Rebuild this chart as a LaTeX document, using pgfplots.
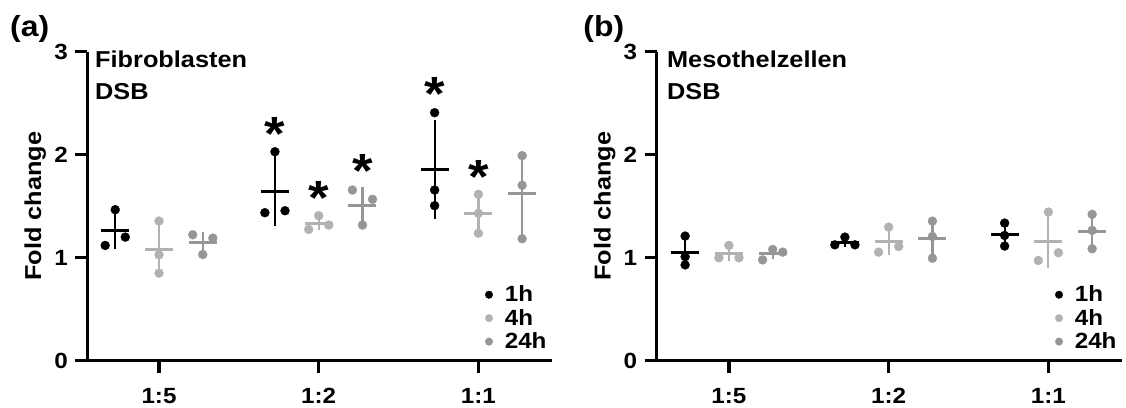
\documentclass[border=0pt]{standalone}
\usepackage{fontspec}
\setmainfont[FakeStretch=1.1]{Liberation Sans}
\usepackage{pgfplots}
\pgfplotsset{compat=1.18}
\usepackage{pgfplotstable}
\definecolor{cA}{RGB}{0,0,0}
\definecolor{cB}{RGB}{178,178,180}
\definecolor{cC}{RGB}{150,150,150}

% ---------- panel (a): Fibroblasten ----------
\pgfplotstableread{
x y
-0.274 1.466
-0.337 1.119
-0.211 1.200
0.726 2.029
0.663 1.437
0.789 1.456
1.726 2.408
1.726 1.657
1.726 1.505
}\ptsAa
\pgfplotstableread{
x y
0 1.356
0 1.028
0 0.850
1.000 1.408
0.937 1.275
1.063 1.317
2 1.615
2 1.431
2 1.237
}\ptsAb
\pgfplotstableread{
x y
0.211 1.223
0.337 1.190
0.274 1.031
1.211 1.657
1.337 1.567
1.274 1.317
2.274 1.991
2.274 1.703
2.274 1.184
}\ptsAc
\pgfplotstableread{
x m s
-0.274 1.262 0.181
0.726 1.645 0.338
1.726 1.857 0.480
}\mnAa
\pgfplotstableread{
x m s
0 1.078 0.257
1 1.334 0.068
2 1.427 0.189
}\mnAb
\pgfplotstableread{
x m s
0.274 1.148 0.103
1.274 1.509 0.178
2.274 1.626 0.409
}\mnAc
\pgfplotstableread{
x y
0.726 2.31
1.000 1.69
1.274 1.95
1.726 2.70
2.000 1.89
}\starsA

% ---------- panel (b): Mesothelzellen ----------
\pgfplotstableread{
x y
-0.274 1.210
-0.274 1.010
-0.274 0.930
0.663 1.125
0.726 1.200
0.789 1.125
1.726 1.336
1.726 1.216
1.726 1.113
}\ptsBa
\pgfplotstableread{
x y
0 1.119
-0.063 0.999
0.063 0.999
1.000 1.297
0.937 1.054
1.063 1.109
2.000 1.443
1.937 0.973
2.063 1.048
}\ptsBb
\pgfplotstableread{
x y
0.211 0.979
0.274 1.080
0.337 1.054
1.274 1.355
1.274 1.206
1.274 0.995
2.274 1.421
2.274 1.265
2.274 1.087
}\ptsBc
\pgfplotstableread{
x m s
-0.274 1.050 0.144
0.726 1.148 0.043
1.726 1.222 0.112
}\mnBa
\pgfplotstableread{
x m s
0 1.039 0.069
1 1.153 0.127
2 1.155 0.252
}\mnBb
\pgfplotstableread{
x m s
0.274 1.038 0.053
1.274 1.185 0.181
2.274 1.258 0.167
}\mnBc

\pgfplotsset{
  panel/.style={
    scale only axis, height=309pt,
    ymin=0, ymax=3,
    axis lines*=left,
    axis line style={line width=3.4pt},
    xtick={0,1,2}, xticklabels={1:5,1:2,1:1},
    ytick={0,1,2,3}, yticklabels={0,1,2,3},
    tick align=outside, major tick length=12pt,
    every tick/.style={black, line width=3.4pt},
    tick label style={font=\fontsize{22}{24}\selectfont\bfseries},
    xticklabel style={yshift=-12pt},
    yticklabel style={xshift=-4pt},
    ylabel={Fold change},
    every axis y label/.style={at={(axis description cs:-0.112,0.5)}, rotate=90, anchor=center,
      font=\fontsize{23}{24}\selectfont\bfseries},
    clip=false,
    legend style={draw=none, fill=none, at={(1.0,0.02)}, anchor=south east,
      font=\fontsize{22}{24}\selectfont\bfseries, row sep=2pt,
      nodes={inner sep=2pt}, cells={anchor=west},
      /tikz/every odd column/.append style={column sep=10pt}},
    legend image code/.code={\draw[##1, mark size=3.8pt] plot coordinates {(0pt,0pt)};},
  },
  meanbar/.style={forget plot, only marks, mark=-, mark size=14pt, color=#1,
    mark options={line width=3pt},
    error bars/.cd, y dir=both, y explicit, error mark=none,
    error bar style={line width=2.2pt, color=#1}},
  pts/.style={only marks, mark=*, mark size=4.5pt, color=#1, mark options={fill=#1, draw=#1, line width=0.3pt}},
}

\begin{document}
\begin{tikzpicture}
\useasboundingbox (0,0) rectangle (1126pt,407pt);

% ===== panel (a) =====
\begin{axis}[panel, at={(87.3pt,46.3pt)}, anchor=south west, width=464.4pt,
  xmin=-0.449, xmax=2.459]
\addplot[meanbar=cA] table[x=x, y=m, y error=s]{\mnAa};
\addplot[meanbar=cB] table[x=x, y=m, y error=s]{\mnAb};
\addplot[meanbar=cC] table[x=x, y=m, y error=s]{\mnAc};
\addplot[pts=cA] table[x=x, y=y]{\ptsAa};
\addplot[pts=cB] table[x=x, y=y]{\ptsAb};
\addplot[pts=cC] table[x=x, y=y]{\ptsAc};
\addplot[forget plot, only marks, mark=none, nodes near coords={*}, nodes near coords align=center,
  every node near coord/.append style={font=\fontsize{48}{48}\selectfont\bfseries, anchor=center, inner sep=0pt, yshift=-11pt, black}]
  table[x=x, y=y]{\starsA};
\legend{1h,4h,24h}
\node[anchor=north west, align=left, inner sep=0pt, font=\fontsize{23}{32}\selectfont\bfseries]
  at (axis description cs:0.0166,1.005) {Fibroblasten\\DSB};
\node[anchor=north west, inner sep=0pt, font=\fontsize{29}{30}\selectfont\bfseries]
  at (axis description cs:-0.1665,1.119) {(a)};
\end{axis}

% ===== panel (b) =====
\begin{axis}[panel, at={(656.7pt,46.3pt)}, anchor=south west, width=465pt,
  xmin=-0.452, xmax=2.459]
\addplot[meanbar=cA] table[x=x, y=m, y error=s]{\mnBa};
\addplot[meanbar=cB] table[x=x, y=m, y error=s]{\mnBb};
\addplot[meanbar=cC] table[x=x, y=m, y error=s]{\mnBc};
\addplot[pts=cA] table[x=x, y=y]{\ptsBa};
\addplot[pts=cB] table[x=x, y=y]{\ptsBb};
\addplot[pts=cC] table[x=x, y=y]{\ptsBc};
\legend{1h,4h,24h}
\node[anchor=north west, align=left, inner sep=0pt, font=\fontsize{23}{32}\selectfont\bfseries]
  at (axis description cs:0.022,1.005) {Mesothelzellen\\DSB};
\node[anchor=north west, inner sep=0pt, font=\fontsize{29}{30}\selectfont\bfseries]
  at (axis description cs:-0.158,1.119) {(b)};
\end{axis}
\end{tikzpicture}
\end{document}
